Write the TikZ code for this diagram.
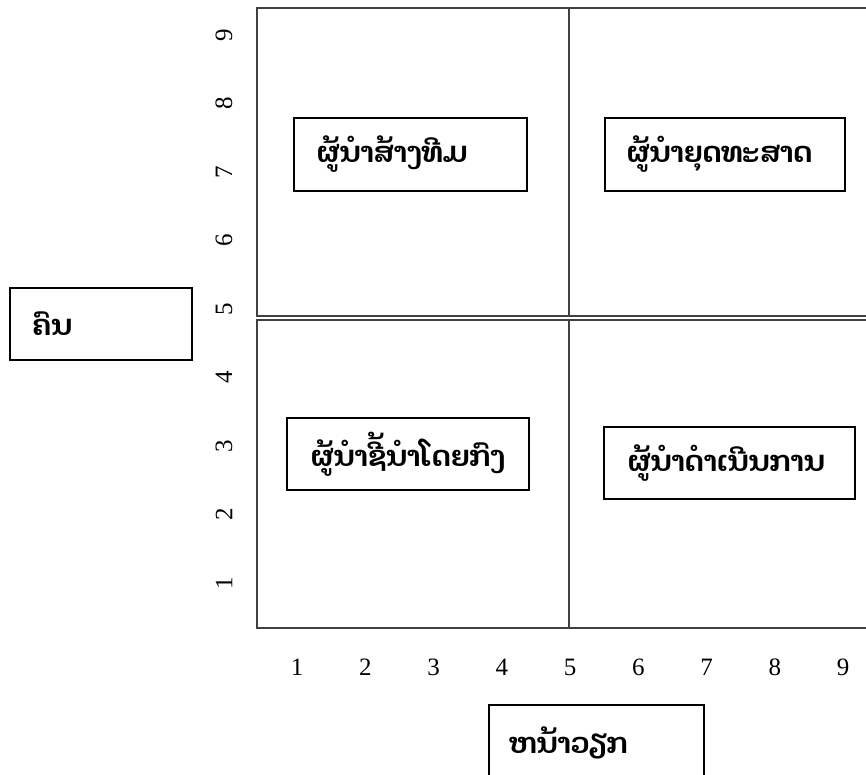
\documentclass[tikz,border=0pt]{standalone}
\usepackage{fontspec}
\setmainfont{Liberation Serif}
\newfontfamily\laofont[Script=Lao]{Dhyana}
\begin{document}
\begin{tikzpicture}[x=1pt,y=-1pt]
\tikzset{
  gridline/.style={draw=black!75, line width=2pt},
  qbox/.style={draw=black, line width=1.6pt, inner ysep=0pt, align=left,
    font=\laofont\bfseries\fontsize{28.5}{32}\selectfont},
  num/.style={font=\fontsize{25}{28}\selectfont, inner sep=0pt},
}
\useasboundingbox (0,0) rectangle (866,775);
\clip (0,0) rectangle (866,775);
% quadrant frames
\draw[gridline] (257,8) rectangle (880,316);
\draw[gridline] (257,320) rectangle (880,628);
\coordinate (vt) at (569,8);
\coordinate (vm1) at (569,316);
\coordinate (vm2) at (569,320);
\coordinate (vb) at (569,628);
\draw[gridline] (vt) -- (vm1);
\draw[gridline] (vm2) -- (vb);
% quadrant boxes
\node[qbox, minimum width=233pt, minimum height=73pt, text width=189pt, inner xsep=22pt] (team) at (410.5,154.5) {ຜູ້ນຳສ້າງທີມ};
\node[qbox, minimum width=240pt, minimum height=73pt, text width=198pt, inner xsep=21pt] (strat) at (725,154.5) {ຜູ້ນຳຍຸດທະສາດ};
\node[qbox, minimum width=242pt, minimum height=72pt, text width=196pt, inner xsep=23pt] (direct) at (408,454) {ຜູ້ນຳຊີ້ນຳໂດຍກົງ};
\node[qbox, minimum width=251pt, minimum height=72pt, text width=205pt, inner xsep=23pt] (oper) at (729.5,463) {ຜູ້ນຳດຳເນີນການ};
% axis boxes
\node[qbox, minimum width=182pt, minimum height=72pt, text width=138pt, inner xsep=22pt] (people) at (101,324) {ຄົນ};
\node[qbox, minimum width=215pt, minimum height=75pt, text width=175pt, inner xsep=20pt] (task) at (596.5,742.5) {ຫນ້າວຽກ};
% y-axis numbers
\foreach \k in {1,...,9} {
  \node[num, rotate=90] (y\k) at (224,{35+68.5*(9-\k)}) {\k};
}
% x-axis numbers
\foreach \k in {1,...,9} {
  \node[num] (x\k) at ({297+68.25*(\k-1)},667) {\k};
}
\end{tikzpicture}
\end{document}
